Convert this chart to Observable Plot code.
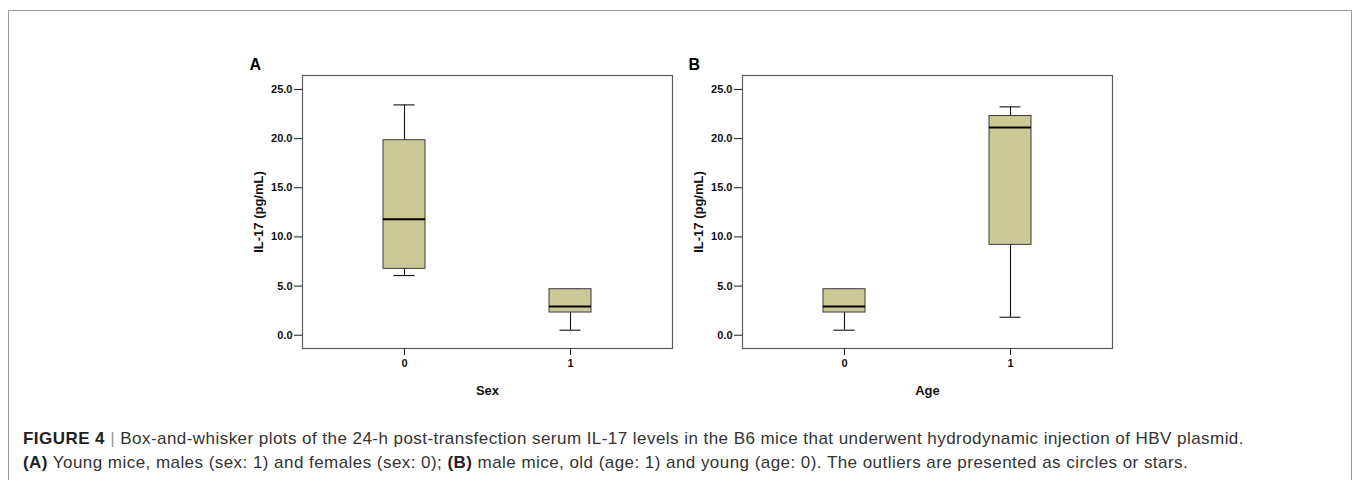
<!DOCTYPE html>
<html>
<head>
<meta charset="utf-8">
<script src="https://cdn.jsdelivr.net/npm/d3@7"></script>
<script src="https://cdn.jsdelivr.net/npm/@observablehq/plot@0.6"></script>
<style>
  html, body { margin: 0; padding: 0; background: #fff; }
  body { width: 1356px; height: 480px; position: relative; overflow: hidden; font-family: "Liberation Sans", Arial, sans-serif; }
  #border { position: absolute; left: 8px; top: 10px; width: 1344px; height: 500px; border: 1px solid #9a9a9a; box-sizing: border-box; }
  .panel { position: absolute; top: 50px; }
  #caption { position: absolute; left: 23px; top: 427px; font-size: 17px; letter-spacing: 0.45px; line-height: 24px; color: #333; white-space: nowrap; }
  #caption b { color: #222; }
  #caption .sep { color: #999; }
</style>
</head>
<body>
<div id="border"></div>
<div id="panelA" class="panel" style="left:220px"></div>
<div id="panelB" class="panel" style="left:659.5px"></div>
<div id="caption">
  <div><b>FIGURE 4</b> <span class="sep">|</span> Box-and-whisker plots of the 24-h post-transfection serum IL-17 levels in the B6 mice that underwent hydrodynamic injection of HBV plasmid.</div>
  <div><b>(A)</b> Young mice, males (sex: 1) and females (sex: 0); <b>(B)</b> male mice, old (age: 1) and young (age: 0). The outliers are presented as circles or stars.</div>
</div>
<script>
// Data
const groups = ["0", "1"];
const yTicks = [0, 5, 10, 15, 20, 25];
// Panel A: Sex
const sexMin    = [6.07, 0.51];
const sexQ1     = [6.75, 2.31];
const sexMedian = [11.80, 2.92];
const sexQ3     = [19.84, 4.68];
const sexMax    = [23.43, 4.68];
// Panel B: Age
const ageMin    = [0.51, 1.83];
const ageQ1     = [2.31, 9.19];
const ageMedian = [2.92, 21.13];
const ageQ3     = [4.68, 22.30];
const ageMax    = [4.68, 23.23];

function rows(mins, q1s, meds, q3s, maxs) {
  return groups.map((g, i) => ({g, min: mins[i], q1: q1s[i], med: meds[i], q3: q3s[i], max: maxs[i]}));
}

function panel(letter, xLabel, data, letterDx) {
  return Plot.plot({
    width: 470,
    height: 350,
    marginLeft: 82,
    marginRight: 18,
    marginTop: 25,
    marginBottom: 52,
    style: {fontFamily: "'Liberation Sans', Arial, sans-serif", fontSize: "11px", fontWeight: "bold", color: "#111", background: "transparent"},
    x: {type: "band", domain: groups, paddingInner: 0.748, paddingOuter: 0.4846},
    y: {domain: [-1.35, 26.42]},
    marks: [
      Plot.frame({stroke: "#5a5a5a", strokeWidth: 1.2}),
      Plot.axisY({ticks: yTicks, tickFormat: d3.format(".1f"), tickSize: 8, tickPadding: 2,
        label: "IL-17 (pg/mL)", labelAnchor: "center", labelArrow: "none", labelOffset: 49,
        fontSize: 11, stroke: "#222"}),
      Plot.axisX({tickSize: 7, tickPadding: 4, label: xLabel, labelAnchor: "center", labelArrow: "none", labelOffset: 46, fontSize: 11, stroke: "#222"}),
      Plot.ruleX(data, {x: "g", y1: "q3", y2: "max", stroke: "#111", strokeWidth: 1.1}),
      Plot.ruleX(data, {x: "g", y1: "min", y2: "q1", stroke: "#111", strokeWidth: 1.1}),
      Plot.tickY(data, {x: "g", y: "max", stroke: "#111", strokeWidth: 1.1, insetLeft: 10.5, insetRight: 10.5}),
      Plot.tickY(data, {x: "g", y: "min", stroke: "#111", strokeWidth: 1.1, insetLeft: 10.5, insetRight: 10.5}),
      Plot.barY(data, {x: "g", y1: "q1", y2: "q3", fill: "#cbca96", stroke: "#3a3a3a", strokeWidth: 1}),
      Plot.tickY(data, {x: "g", y: "med", stroke: "#000", strokeWidth: 2.2}),
      Plot.text([letter], {text: d => d, frameAnchor: "top-left", dx: letterDx, dy: -17, fontSize: 16, fontWeight: "bold", fill: "#000", textAnchor: "start", lineAnchor: "top"})
    ]
  });
}

function styleLabels(svg) {
  svg.querySelectorAll("[aria-label='y-axis label'] text, [aria-label='x-axis label'] text").forEach(t => {
    t.setAttribute("font-size", "13");
  });
  return svg;
}

document.getElementById("panelA").appendChild(styleLabels(panel("A", "Sex", rows(sexMin, sexQ1, sexMedian, sexQ3, sexMax), -53)));
document.getElementById("panelB").appendChild(styleLabels(panel("B", "Age", rows(ageMin, ageQ1, ageMedian, ageQ3, ageMax), -54)));
</script>
</body>
</html>
